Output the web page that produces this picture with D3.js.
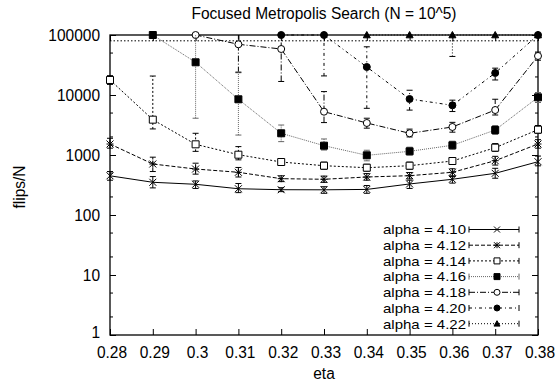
<!DOCTYPE html>
<html><head><meta charset="utf-8">
<script src="https://cdn.jsdelivr.net/npm/d3@7/dist/d3.min.js"></script>
<style>body{margin:0;background:#fff}svg{display:block}text{font-family:"Liberation Sans",Arial,sans-serif;fill:#000}</style>
</head><body><svg id="c" width="555" height="381"></svg>
<script>
const eta = [0.28,0.29,0.30,0.31,0.32,0.33,0.34,0.35,0.36,0.37,0.38];
const xTicks = [0.28,0.29,0.3,0.31,0.32,0.33,0.34,0.35,0.36,0.37,0.38];
const yTicks = [1,10,100,1000,10000,100000];
const alphas = ["4.10","4.12","4.14","4.16","4.18","4.20","4.22"];

// null = above the plotted range (off the top of the chart)
const v410 = [450,351,325,274,264,263,267,329,394,495,773];
const lo410 = [380,283,277,236,245,230,230,277,340,410,660];
const hi410 = [530,437,370,335,285,296,310,380,437,600,960];

const v412 = [1525,708,584,515,403,394,430,452,515,804,1525];
const lo412 = [1300,530,480,430,360,350,380,400,450,680,1300];
const hi412 = [1900,920,730,620,450,445,490,510,590,950,1800];

const v414 = [17800,3880,1507,1012,764,663,614,663,794,1324,2642];
const lo414 = [15000,2720,1150,830,680,580,540,580,700,1150,2300];
const hi414 = [21000,20700,2300,1380,860,760,700,760,900,1550,3100];

const v416 = [null,100000,35100,8480,2300,1430,988,1152,1452,2610,9150];
const lo416 = [null,100000,4100,2150,1670,1210,800,1000,1250,2200,7500];
const hi416 = [null,100000,100000,24300,3160,1850,1200,1350,1700,3100,11000];

const v418 = [null,null,100000,70000,58400,5270,3415,2300,2930,5620,44700];
const lo418 = [null,null,100000,23600,16800,3470,2800,2000,2400,4640,38000];
const hi418 = [null,null,100000,100000,100000,11400,4100,2700,3500,8500,52000];

const v420 = [null,null,null,null,100000,100000,29300,8580,6730,23300,100000];
const lo420 = [null,null,null,null,100000,20800,6000,5600,5300,17800,100000];
const hi420 = [null,null,null,null,100000,100000,63600,12000,8200,28000,100000];

const v422 = [null,null,null,null,null,null,100000,100000,100000,100000,100000];
const lo422 = [null,null,null,null,null,null,100000,100000,43900,100000,100000];
const hi422 = [null,null,null,null,null,null,100000,100000,100000,100000,100000];

const refLevel = [80000, 80000];

const series = [
  {name:alphas[0], v:v410, lo:lo410, hi:hi410, dash:null, color:"#000", marker:"x"},
  {name:alphas[1], v:v412, lo:lo412, hi:hi412, dash:"4,2", color:"#000", marker:"star"},
  {name:alphas[2], v:v414, lo:lo414, hi:hi414, dash:"2,2", color:"#000", marker:"sq"},
  {name:alphas[3], v:v416, lo:lo416, hi:hi416, dash:"1,1", color:"#666", marker:"fsq"},
  {name:alphas[4], v:v418, lo:lo418, hi:hi418, dash:"6,2,1,2", color:"#000", marker:"circ"},
  {name:alphas[5], v:v420, lo:lo420, hi:hi420, dash:"3,3,1,3", color:"#000", marker:"fcirc"},
  {name:alphas[6], v:v422, lo:lo422, hi:hi422, dash:"1,2", color:"#000", marker:"tri"}
];

const svg = d3.select("#c");
const L=110, R=538, T=35, B=335;
const x = d3.scaleLinear().domain([0.28,0.38]).range([L,R]);
const y = d3.scaleLog().domain([1,100000]).range([B,T]);
const FS = "15.5px", SY = 1.1;

function stretch(sel){
  sel.each(function(){
    const t = d3.select(this);
    const yy = +(t.attr("y")||0);
    const prev = t.attr("transform");
    if (prev) t.attr("transform", prev + ` scale(1,${SY})`);
    else t.attr("transform", `translate(0,${yy*(1-SY)}) scale(1,${SY})`);
  });
}

// title
const title = svg.append("text").attr("x",(L+R)/2).attr("y",19).attr("text-anchor","middle").style("font-size",FS).text("Focused Metropolis Search (N = 10^5)");

// axes
const fmtX = d => String(+d.toFixed(2));
const gx = svg.append("g").attr("transform",`translate(0,${B})`)
  .call(d3.axisBottom(x).tickValues(xTicks).tickFormat(fmtX).tickSizeInner(-6).tickSizeOuter(0).tickPadding(10.5));
gx.selectAll(".tick text").attr("x",1.5);
const gxt = svg.append("g").attr("transform",`translate(0,${T})`)
  .call(d3.axisTop(x).tickValues(xTicks).tickFormat("").tickSizeInner(-6).tickSizeOuter(0));
const gy = svg.append("g").attr("transform",`translate(${L},0)`)
  .call(d3.axisLeft(y).tickValues(yTicks).tickFormat(d3.format("d")).tickSizeInner(-6).tickSizeOuter(0).tickPadding(10));
gy.selectAll(".tick text").filter(d=>d===1).attr("y",-2.5);
const gyr = svg.append("g").attr("transform",`translate(${R},0)`)
  .call(d3.axisRight(y).tickValues(yTicks).tickFormat("").tickSizeInner(-6).tickSizeOuter(0));
[gx,gxt,gy,gyr].forEach(g=>{g.select(".domain").remove(); g.selectAll("line").attr("stroke","#000"); g.selectAll("text").style("font-size",FS).style("font-family","Liberation Sans, Arial, sans-serif");});

// minor ticks
const minor=[];
for (let k=0;k<5;k++){ [2,5].forEach(m=>minor.push(m*Math.pow(10,k))); }
svg.append("g").selectAll("line").data(minor).join("line")
  .attr("x1",L).attr("x2",L+3).attr("y1",d=>y(d)).attr("y2",d=>y(d)).attr("stroke","#000");
svg.append("g").selectAll("line").data(minor).join("line")
  .attr("x1",R).attr("x2",R-3).attr("y1",d=>y(d)).attr("y2",d=>y(d)).attr("stroke","#000");

// frame
svg.append("rect").attr("x",L).attr("y",T).attr("width",R-L).attr("height",B-T).attr("fill","none").attr("stroke","#000").attr("stroke-width",1.3);

// axis labels
const xl = svg.append("text").attr("x",(L+R)/2).attr("y",379).attr("text-anchor","middle").style("font-size",FS).text("eta");
const yl = svg.append("text").attr("transform","translate(25,187) rotate(-90)").attr("text-anchor","middle").style("font-size",FS).text("flips/N");

// marker path
function markerPath(type, s){
  switch(type){
    case "x": return `M${-s},${-s}L${s},${s}M${-s},${s}L${s},${-s}`;
    case "star": return `M${-s},${-s}L${s},${s}M${-s},${s}L${s},${-s}M0,${-s}L0,${s}M${-s},0L${s},0`;
    case "sq": case "fsq": return `M${-s},${-s}H${s}V${s}H${-s}Z`;
    case "circ": case "fcirc": return d3.arc()({innerRadius:0,outerRadius:s,startAngle:0,endAngle:2*Math.PI});
    case "tri": return `M0,${-s}L${s},${s*0.8}L${-s},${s*0.8}Z`;
  }
}
const filled = t => (t==="fsq"||t==="fcirc"||t==="tri");

// reference dotted level
svg.append("line").attr("x1",x(eta[0])).attr("x2",x(eta[eta.length-1]))
  .attr("y1",y(refLevel[0])).attr("y2",y(refLevel[1])).attr("stroke","#000").attr("stroke-dasharray","1.5,2").attr("stroke-width",1);

const line = d3.line().defined(d=>d!==null).x((d,i)=>x(eta[i])).y(d=>y(d));
series.slice().reverse().forEach(s=>{
  const g = svg.append("g");
  g.append("path").attr("d",line(s.v)).attr("fill","none").attr("stroke",s.color).attr("stroke-width",1).attr("stroke-dasharray",s.dash);
  eta.forEach((e,i)=>{
    if (s.v[i]===null || s.lo[i]===s.hi[i]) return;
    const cx=x(e);
    g.append("line").attr("x1",cx).attr("x2",cx).attr("y1",y(s.lo[i])).attr("y2",y(s.hi[i])).attr("stroke",s.color).attr("stroke-dasharray",s.dash);
    [s.lo[i],s.hi[i]].forEach(vv=>{
      if (vv>=100000) return;
      g.append("line").attr("x1",cx-3).attr("x2",cx+3).attr("y1",y(vv)).attr("y2",y(vv)).attr("stroke",s.color);
    });
  });
  const pts = s.v.map((d,i)=>({d,i})).filter(p=>p.d!==null);
  g.selectAll("path.m").data(pts).join("path").attr("class","m")
    .attr("transform",p=>`translate(${x(eta[p.i])},${y(p.d)})`)
    .attr("d",markerPath(s.marker,3.5))
    .attr("fill",filled(s.marker)?"#000":"#fff").attr("stroke","#000").attr("stroke-width",1);
});

// stretch axis/title texts (not the legend)
stretch(svg.selectAll("g.tick text"));
stretch(title); stretch(xl); stretch(yl);

// legend
const lg = svg.append("g");
const SX = 1.12;
series.forEach((s,i)=>{
  const ly = 229.5 + i*15.7;
  lg.append("text").attr("x",466).attr("y",ly).attr("dy","0.36em").attr("text-anchor","end")
    .attr("transform",`translate(${466*(1-SX)},0) scale(${SX},1)`)
    .style("font-size","13.4px").text("alpha = "+s.name);
  lg.append("line").attr("x1",469).attr("x2",519).attr("y1",ly).attr("y2",ly).attr("stroke",s.color).attr("stroke-dasharray",s.dash);
  [469,519].forEach(cx=>lg.append("line").attr("x1",cx).attr("x2",cx).attr("y1",ly-3).attr("y2",ly+3).attr("stroke",s.color));
  lg.append("path").attr("transform",`translate(497,${ly})`).attr("d",markerPath(s.marker,3)).attr("fill",filled(s.marker)?"#000":"#fff").attr("stroke","#000");
});
</script></body></html>
